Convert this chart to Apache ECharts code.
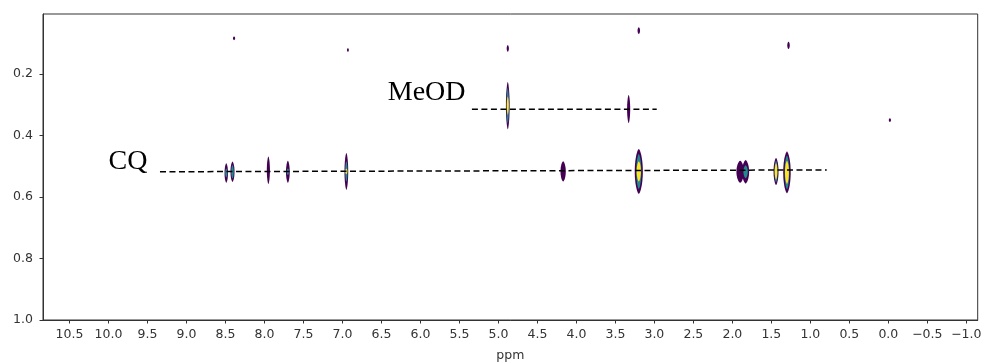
<!DOCTYPE html>
<html>
<head>
<meta charset="utf-8">
<script src="https://cdn.jsdelivr.net/npm/echarts@6/dist/echarts.min.js"></script>
<style>
html,body{margin:0;padding:0;background:#fff;}
#chart{width:982px;height:363px;}
</style>
</head>
<body>
<div id="chart"></div>
<script>
// ---- data ----
const xTickValues = [10.5,10.0,9.5,9.0,8.5,8.0,7.5,7.0,6.5,6.0,5.5,5.0,4.5,4.0,3.5,3.0,2.5,2.0,1.5,1.0,0.5,0.0,-0.5,-1.0];
const yTickValues = [0.2,0.4,0.6,0.8,1.0];

// peaks: chemical shift (ppm), diffusion-axis centre, half extent along diffusion axis,
// half width in ppm, teal-core fraction, yellow-core fraction (contour levels)
const peakPpm    = [8.49, 8.41, 7.95, 7.70, 6.95, 4.88, 3.33, 4.17, 3.20, 1.90, 1.83, 1.44, 1.30, 8.39, 6.93, 4.88, 3.20, 1.28, -0.02];
const peakCenter = [0.522,0.518,0.513,0.518,0.517,0.303,0.314,0.517,0.517,0.518,0.518,0.517,0.520,0.084,0.122,0.117,0.059,0.107,0.350];
const peakHalfH  = [0.032,0.033,0.045,0.036,0.060,0.077,0.046,0.033,0.073,0.036,0.038,0.044,0.068,0.006,0.006,0.011,0.011,0.012,0.006];
const peakHalfW  = [0.022,0.026,0.020,0.024,0.024,0.024,0.020,0.034,0.052,0.048,0.045,0.032,0.048,0.014,0.012,0.014,0.016,0.016,0.014];
const peakTeal   = [0.45, 0.65, 0,    0.3,  0.55, 0.75, 0,    0,    0.78, 0,    0.55, 0.8,  0.8,  0,0,0,0,0,0];
const peakYellow = [0,    0,    0,    0,    0.15, 0.38, 0,    0,    0.45, 0,    0,    0.6,  0.55, 0,0,0,0,0,0];

// dashed guide lines
const cqLine   = [[9.34, 0.518], [0.79, 0.512]];
const meodLine = [[5.34, 0.315], [2.97, 0.315]];

// annotations
const annotations = [[5.92, 0.261, 'MeOD'], [9.75, 0.4836, 'CQ']];

// ---- chart ----
const peakData = peakPpm.map((p, i) => [p, peakCenter[i], peakHalfH[i], peakHalfW[i], peakTeal[i], peakYellow[i]]);

// spindle-shaped contour (rounded sides, tapered tips along the diffusion axis)
function spindlePoints(api, cx, cy, hw, hh) {
  const pts = [];
  const n = 56;
  for (let k = 0; k < n; k++) {
    const t = (k / n) * Math.PI * 2;
    const c = Math.cos(t);
    const dx = hw * Math.sign(c) * Math.pow(Math.abs(c), 1.3);
    pts.push(api.coord([cx + dx, cy + hh * Math.sin(t)]));
  }
  return pts;
}

function renderPeak(params, api) {
  const cx = api.value(0), cy = api.value(1), hh = api.value(2), hw = api.value(3);
  const teal = api.value(4), yellow = api.value(5);
  const children = [{
    type: 'polygon', shape: { points: spindlePoints(api, cx, cy, hw, hh) },
    style: { fill: '#440154' }
  }];
  if (teal > 0) {
    children.push({
      type: 'polygon', shape: { points: spindlePoints(api, cx, cy, hw * 0.62, hh * teal) },
      style: { fill: '#23898e' }
    });
  }
  if (yellow > 0) {
    children.push({
      type: 'polygon', shape: { points: spindlePoints(api, cx, cy, hw * 0.52, hh * yellow) },
      style: { fill: '#fde725' }
    });
  }
  return { type: 'group', children: children };
}

function renderText(params, api) {
  const p = api.coord([api.value(0), api.value(1)]);
  return {
    type: 'text',
    style: {
      x: p[0], y: p[1], text: annotations[params.dataIndex][2],
      fill: '#000', font: '28px "Liberation Serif", "Times New Roman", serif',
      align: 'center', verticalAlign: 'middle'
    }
  };
}

function fmtX(v) {
  const r = Math.round(v * 10) / 10;
  return r < 0 ? '\u2212' + Math.abs(r).toFixed(1) : r.toFixed(1);
}

const axisColor = '#333';
const chart = echarts.init(document.getElementById('chart'), null, { renderer: 'canvas' });
chart.setOption({
  animation: false,
  backgroundColor: '#fff',
  grid: { left: 43, right: 4.3, top: 14, bottom: 43, show: true, borderColor: axisColor, borderWidth: 1,
          containLabel: false, outerBoundsMode: 'none' },
  xAxis: {
    type: 'value', min: -1.146, max: 10.84, inverse: true,
    name: 'ppm', nameLocation: 'middle', nameGap: 29,
    nameTextStyle: { fontFamily: 'DejaVu Sans', fontSize: 12.5, color: '#333' },
    axisLine: { show: true, onZero: false, lineStyle: { color: axisColor, width: 1 } },
    axisTick: { show: true, length: 3.5, customValues: xTickValues, lineStyle: { color: axisColor } },
    axisLabel: { customValues: xTickValues, formatter: fmtX, margin: 8, hideOverlap: false, fontFamily: 'DejaVu Sans', fontSize: 12.5, color: '#333' },
    splitLine: { show: false }
  },
  yAxis: {
    type: 'value', min: 0.005, max: 1.0, inverse: true,
    axisLine: { show: true, onZero: false, lineStyle: { color: axisColor, width: 1 } },
    axisTick: { show: true, length: 3.5, customValues: yTickValues, lineStyle: { color: axisColor } },
    axisLabel: { customValues: yTickValues, formatter: v => v.toFixed(1), margin: 10, fontFamily: 'DejaVu Sans', fontSize: 12.5, color: '#333' },
    splitLine: { show: false }
  },
  series: [
    { type: 'custom', renderItem: renderPeak, data: peakData, z: 2, silent: true, clip: true },
    { type: 'line', data: cqLine, symbol: 'none', z: 3, silent: true,
      lineStyle: { color: '#000', width: 1.5, type: [6, 3.5] } },
    { type: 'line', data: meodLine, symbol: 'none', z: 3, silent: true,
      lineStyle: { color: '#000', width: 1.5, type: [6, 3.5] } },
    { type: 'custom', renderItem: renderText, data: annotations.map(a => [a[0], a[1]]), z: 4, silent: true }
  ]
});
</script>
</body>
</html>
